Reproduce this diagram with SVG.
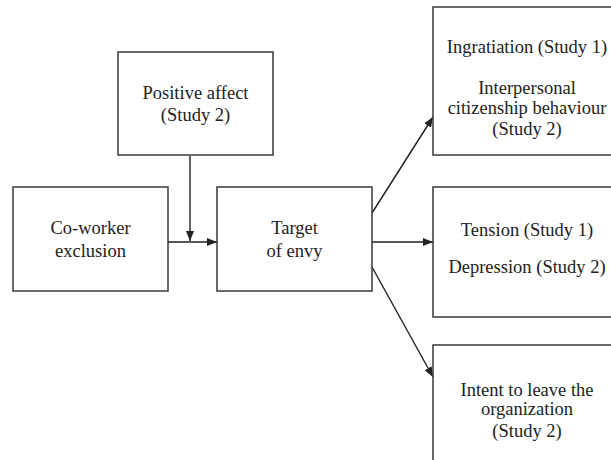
<svg xmlns="http://www.w3.org/2000/svg" width="611" height="460" viewBox="0 0 611 460">
<style>
.box{fill:#fff;stroke:#3a3a3a;stroke-width:1.5}
.t{font-family:"Liberation Serif","DejaVu Serif",serif;font-size:18.5px;fill:#222;text-anchor:middle}
.c{stroke:#222;stroke-width:1.4;fill:none;marker-end:url(#ah)}
</style>
<defs>
<marker id="ah" markerUnits="userSpaceOnUse" markerWidth="10" markerHeight="8" refX="10" refY="4" orient="auto">
<path d="M0,0 L10,4 L0,8 z" fill="#222"/>
</marker>
</defs>
<rect width="611" height="460" fill="#fff"/>
<g id="connectors">
<path class="c" d="M190,156 L190,241"/>
<path class="c" d="M168,242 L217,242"/>
<path class="c" d="M372,242 L433,242"/>
<path class="c" d="M372,213 L433,117"/>
<path class="c" d="M372,267 L433,377"/>
</g>
<g id="positive-affect">
<rect class="box" x="118" y="52" width="155" height="103"/>
<text class="t" x="195.5" y="99">Positive affect</text>
<text class="t" x="195.5" y="121">(Study 2)</text>
</g>
<g id="coworker-exclusion">
<rect class="box" x="13" y="187" width="155" height="104"/>
<text class="t" x="90.5" y="234">Co-worker</text>
<text class="t" x="90.5" y="257">exclusion</text>
</g>
<g id="target-of-envy">
<rect class="box" x="217" y="187" width="155" height="104"/>
<text class="t" x="294.5" y="234">Target</text>
<text class="t" x="294.5" y="257">of envy</text>
</g>
<g id="ingratiation">
<rect class="box" x="433" y="7" width="200" height="148"/>
<text class="t" x="527" y="53">Ingratiation (Study 1)</text>
<text class="t" x="527" y="94">Interpersonal</text>
<text class="t" x="527" y="114">citizenship behaviour</text>
<text class="t" x="527" y="135">(Study 2)</text>
</g>
<g id="tension">
<rect class="box" x="433" y="187" width="200" height="130"/>
<text class="t" x="527" y="236">Tension (Study 1)</text>
<text class="t" x="527" y="273">Depression (Study 2)</text>
</g>
<g id="intent-to-leave">
<rect class="box" x="433" y="345" width="200" height="130"/>
<text class="t" x="527" y="396">Intent to leave the</text>
<text class="t" x="527" y="415">organization</text>
<text class="t" x="527" y="437">(Study 2)</text>
</g>
</svg>
